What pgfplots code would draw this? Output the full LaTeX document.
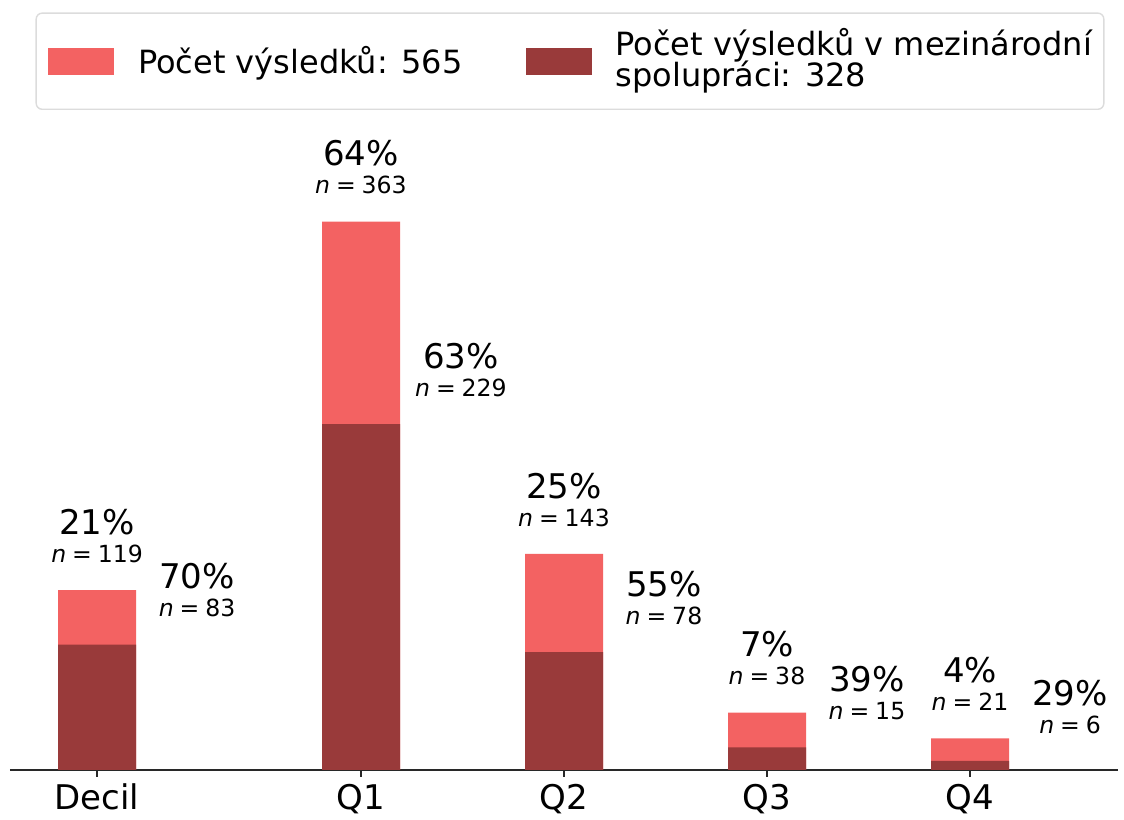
\documentclass[border=0pt]{standalone}
\usepackage{fontspec}
\setmainfont{DejaVu Sans}
\usepackage{pgfplots}
\usepackage{pgfplotstable}
\pgfplotsset{compat=1.18}
\definecolor{lightred}{RGB}{243,98,98}
\definecolor{darkred}{RGB}{153,58,58}
\definecolor{axcol}{RGB}{40,40,40}
\definecolor{legcol}{RGB}{220,220,220}
\pgfplotstableread{
x y p
-0.3 119 21
1 363 64
2 143 25
3 38 7
4 21 4
}\lighttab
\pgfplotstableread{
x y p
-0.3 83 70
1 229 63
2 78 55
3 15 39
4 6 29
}\darktab
\newcommand{\barlabel}[2]{{\fontsize{17}{14}\selectfont #1\%}\\{\fontsize{11.8}{14}\selectfont\textit{n}\hspace{0.25em}=\hspace{0.25em}\pgfmathprintnumber[assume math mode=true]{#2}}}
\begin{document}
\begin{tikzpicture}
\begin{axis}[
  scale only axis, width=554pt, height=315pt,
  xmin=-0.729, xmax=4.729, ymin=0, ymax=417,
  axis x line*=bottom, axis y line=none,
  xtick={-0.3,1,2,3,4}, xticklabels={Decil,Q1,Q2,Q3,Q4},
  tick align=outside, major tick length=3.5pt,
  tick style={line width=0.8pt, color=axcol},
  axis line style={line width=0.8pt, color=axcol},
  xticklabel style={font=\fontsize{17}{17}\selectfont, text=black},
  ytick=\empty,
  clip=false,
  ybar, bar width=39pt, bar shift=0pt,
  legend columns=2,
  legend cell align=left,
  legend image code/.code={\fill[#1, sharp corners] (0pt,-6.75pt) rectangle (33pt,6.75pt);},
  legend style={at={(axis description cs:0.5,1)}, anchor=south, yshift=15pt, xshift=3pt,
    draw=legcol, line width=0.7pt, rounded corners=3pt,
    inner xsep=6pt, inner ysep=16.5pt,
    font=\fontsize{16}{16}\selectfont,
    nodes={inner sep=0pt},
    /tikz/every odd column/.append style={column sep=12pt},
    /tikz/every even column/.append style={column sep=31.5pt}},
]
\addplot[fill=lightred, draw=none, bar shift=0pt,
  point meta=explicit symbolic,
  visualization depends on={y\as\nval},
  nodes near coords={\barlabel{\pgfplotspointmeta}{\nval}},
  every node near coord/.append style={align=center, anchor=south, inner sep=0pt, yshift=13.5pt, font=\fontsize{11.5}{14}\selectfont, text=black}]
  table[x=x,y=y,meta=p]{\lighttab};
\addlegendentry{Počet výsledků: 565}
\addplot[fill=darkred, draw=none, bar shift=0pt,
  point meta=explicit symbolic,
  visualization depends on={y\as\nval},
  nodes near coords={\barlabel{\pgfplotspointmeta}{\nval}},
  every node near coord/.append style={align=center, anchor=south, inner sep=0pt, yshift=13.5pt, xshift=50pt, font=\fontsize{11.5}{14}\selectfont, text=black}]
  table[x=x,y=y,meta=p]{\darktab};
\addlegendentry{\smash{\raisebox{-13.5pt}{\begin{tabular}[b]{@{}l@{}}Počet výsledků v mezinárodní\\[-2pt]spolupráci: 328\end{tabular}}}}
\end{axis}
\pgfresetboundingbox
\useasboundingbox ([shift={(-5pt,-24.5pt)}]current axis.south west) rectangle ([shift={(3pt,70pt)}]current axis.north east);
\end{tikzpicture}
\end{document}
